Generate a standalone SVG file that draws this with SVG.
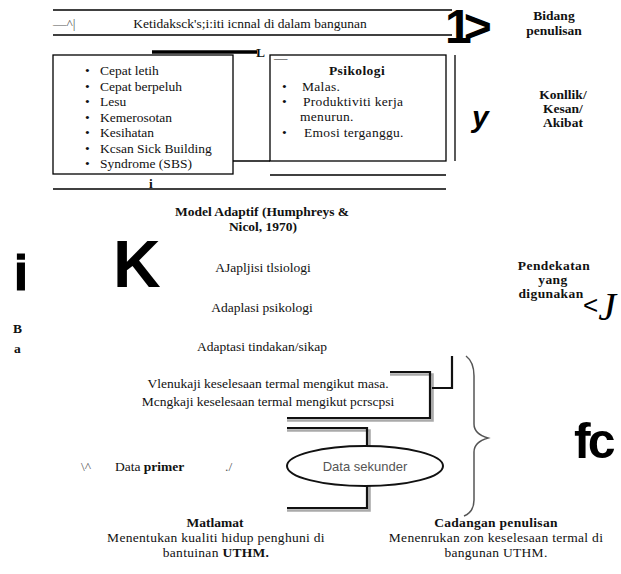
<svg xmlns="http://www.w3.org/2000/svg" width="621" height="574" viewBox="0 0 621 574">
<style>
.t{font-family:"Liberation Serif","Times New Roman",serif;font-size:13.5px;fill:#111}
.b{font-weight:bold}
.g{fill:#555}
.c{text-anchor:middle}
.big{font-family:"Liberation Sans",Arial,sans-serif;font-weight:bold;fill:#000}
.ln{stroke:#000;stroke-width:1.3;fill:none}
.sh{stroke:#aaa;stroke-width:2.6;fill:none}
.dk{stroke:#111;stroke-width:2.2;fill:none}
.br{stroke:#555;stroke-width:1.5;fill:none}
</style>
<rect width="621" height="574" fill="#fff"/>
<g id="connectors">
  <line class="ln" x1="53" y1="10" x2="452" y2="10"/>
  <line class="ln" x1="53" y1="35" x2="452" y2="35"/>
  <line x1="152" y1="52" x2="257" y2="52" stroke="#000" stroke-width="3.5"/>
  <line class="ln" x1="233" y1="161" x2="270" y2="161"/>
  <line class="ln" x1="455" y1="55" x2="455" y2="161"/>
  <line class="ln" x1="270" y1="175" x2="446" y2="175"/>
  <line class="ln" x1="53" y1="189" x2="446" y2="189"/>
  <path class="sh" d="M390 374.5 H432.5 V420.5 H287"/>
  <path class="dk" d="M390 372 H430 V418 H287"/>
  <path class="dk" d="M452 356 V388 H432"/>
  <path class="sh" d="M287 430.5 H369.5 V447"/>
  <path class="dk" d="M287 428 H367 V446"/>
  <path class="sh" d="M369.5 486 V510.5 H287"/>
  <path class="dk" d="M367 486 V508 H287"/>
  <path class="br" d="M466 356 Q474 362 474 376 V424 Q474 434 488 438 Q474 442 474 452 V500 Q474 512 464 516"/>
</g>
<g id="banner">
  <text class="t g" x="53" y="28">—^|</text>
  <text class="t c" x="250" y="28">Ketidaksck's;i:iti icnnal di dalam bangunan</text>
</g>
<g id="mark-1">
  <text class="big" x="445" y="43" font-size="48" letter-spacing="-8">1&gt;</text>
</g>
<g id="label-bidang">
  <text class="t b c" x="554" y="20">Bidang</text>
  <text class="t b c" x="554" y="35">penulisan</text>
</g>
<g id="mark-L">
  <text class="t b" x="256" y="57" font-size="28">L</text>
  <text class="t" x="274" y="62">—</text>
</g>
<g id="box-fisiologi">
  <rect x="53" y="55" width="180" height="119" fill="none" stroke="#000" stroke-width="1.3"/>
  <text class="t" x="85" y="75">•</text><text class="t" x="100" y="75">Cepat letih</text>
  <text class="t" x="85" y="91">•</text><text class="t" x="100" y="91">Cepat berpeluh</text>
  <text class="t" x="85" y="106">•</text><text class="t" x="100" y="106">Lesu</text>
  <text class="t" x="85" y="122">•</text><text class="t" x="100" y="122">Kemerosotan</text>
  <text class="t" x="85" y="137">•</text><text class="t" x="100" y="137">Kesihatan</text>
  <text class="t" x="85" y="153">•</text><text class="t" x="100" y="153">Kcsan Sick Building</text>
  <text class="t" x="85" y="168">•</text><text class="t" x="100" y="168">Syndrome (SBS)</text>
</g>
<g id="box-psikologi">
  <rect x="270" y="55" width="176" height="106" fill="none" stroke="#000" stroke-width="1.3"/>
  <text class="t b c" x="357" y="75" letter-spacing="0.4">Psikologi</text>
  <text class="t" x="282" y="91">•</text><text class="t" x="302" y="91" letter-spacing="0.3">Malas.</text>
  <text class="t" x="282" y="106">•</text><text class="t" x="303" y="106" letter-spacing="0.3">Produktiviti kerja</text>
  <text class="t" x="300" y="121" letter-spacing="0.3">menurun.</text>
  <text class="t" x="282" y="137">•</text><text class="t" x="304" y="137" letter-spacing="0.3">Emosi terganggu.</text>
</g>
<g id="mark-i-small">
  <text class="t b" x="149" y="188" font-size="19">i</text>
</g>
<g id="mark-y">
  <text class="big" x="472" y="127" font-size="30" font-style="italic">y</text>
</g>
<g id="label-konflik">
  <text class="t b c" x="563" y="99">Konllik/</text>
  <text class="t b c" x="563" y="113">Kesan/</text>
  <text class="t b c" x="563" y="127">Akibat</text>
</g>
<g id="model-title">
  <text class="t b c" x="262" y="216">Model  Adaptif (Humphreys  &amp;</text>
  <text class="t b c" x="263" y="231">Nicol, 1970)</text>
</g>
<g id="mark-K">
  <text class="big" x="113" y="287" font-size="66">K</text>
</g>
<g id="mark-i-big">
  <text class="big" x="14" y="290" font-size="50" stroke="#000" stroke-width="1.2">i</text>
</g>
<g id="mark-Ba">
  <text class="t b" x="13" y="333" font-size="20">B</text>
  <text class="t b" x="14" y="353" font-size="20">a</text>
</g>
<g id="adaptasi">
  <text class="t c" x="263" y="272">AJapljisi  tlsiologi</text>
  <text class="t c" x="262" y="312">Adaplasi  psikologi</text>
  <text class="t c" x="262" y="351">Adaptasi  tindakan/sikap</text>
</g>
<g id="label-pendekatan">
  <text class="t b c" x="554" y="270" letter-spacing="0.4">Pendekatan</text>
  <text class="t b c" x="553" y="284" letter-spacing="0.4">yang</text>
  <text class="t b c" x="551" y="298" letter-spacing="0.4">digunakan</text>
  <text x="583" y="320" fill="#000"><tspan font-family="Liberation Sans,Arial,sans-serif" font-size="26" dy="-6">&lt;</tspan><tspan font-family="Liberation Serif,Times New Roman,serif" font-size="40" font-style="italic" dy="6">J</tspan></text>
</g>
<g id="mengkaji">
  <text class="t c" x="268" y="388">Vlenukaji  keselesaan  termal  mengikut  masa.</text>
  <text class="t c" x="268" y="406">Mcngkaji  keselesaan  termal  mengikut  pcrscpsi</text>
</g>
<g id="mark-fc">
  <text class="big" x="574" y="458" font-size="50" letter-spacing="-3">fc</text>
</g>
<g id="data-primer">
  <text class="t g" x="81" y="471">\^</text>
  <text class="t" x="115" y="471">Data <tspan class="b">primer</tspan></text>
  <text class="t g" x="225" y="471">./</text>
</g>
<g id="data-sekunder">
  <ellipse cx="365" cy="466" rx="78" ry="20" fill="#fff" stroke="#111" stroke-width="2"/>
  <text x="365" y="471" class="c" font-family="Liberation Sans,Arial,sans-serif" font-size="13" fill="#555">Data sekunder</text>
</g>
<g id="matlamat">
  <text class="t b c" x="215" y="527">Matlamat</text>
  <text class="t c" x="216" y="542" letter-spacing="0.3">Menentukan kualiti hidup penghuni di</text>
  <text class="t c" x="216" y="557" letter-spacing="0.3">bantuinan  <tspan class="b">UTHM.</tspan></text>
</g>
<g id="cadangan">
  <text class="t b c" x="496" y="527" letter-spacing="0.3">Cadangan  penulisan</text>
  <text class="t c" x="496" y="542" letter-spacing="0.3">Menenrukan zon keselesaan termal di</text>
  <text class="t c" x="496" y="557" letter-spacing="0.3">bangunan  UTHM.</text>
</g>
</svg>
